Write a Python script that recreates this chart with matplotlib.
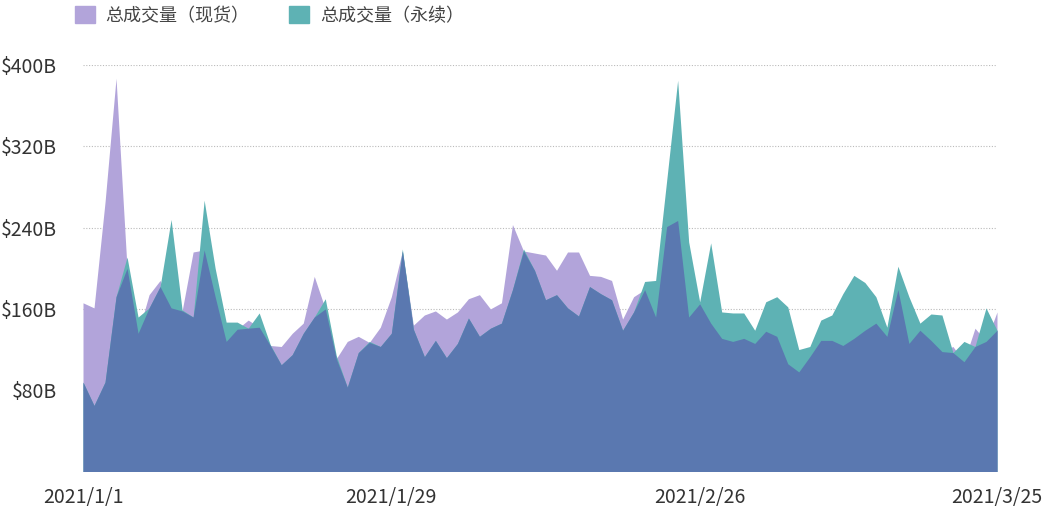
import numpy as np
import pandas as pd
import matplotlib
matplotlib.use('Agg')
import matplotlib.pyplot as plt
from matplotlib.patches import Patch

plt.rcParams['font.family'] = ['Noto Sans CJK SC', 'DejaVu Sans']

dates = pd.date_range('2021-01-01', '2021-03-25', freq='D')

# 总成交量（现货）, $B
spot = [166, 161, 265, 387, 200, 136, 174, 188, 161, 158,
        216, 218, 172, 128, 140, 149, 142, 124, 123, 136,
        146, 192, 160, 111, 128, 133, 127, 142, 172, 217,
        144, 154, 158, 150, 157, 170, 174, 160, 166, 243,
        217, 215, 213, 198, 216, 216, 193, 192, 188, 150,
        172, 179, 152, 241, 247, 152, 165, 146, 131, 128,
        131, 126, 138, 133, 106, 98, 113, 129, 129, 124,
        131, 139, 146, 133, 179, 126, 139, 129, 118, 123,
        108, 141, 128, 157]

# 总成交量（永续）, $B
perp = [88, 65, 88, 172, 211, 152, 161, 182, 248, 159,
        152, 267, 200, 147, 147, 141, 156, 125, 105, 115,
        136, 152, 170, 114, 83, 117, 128, 123, 136, 219,
        140, 113, 129, 112, 126, 151, 133, 141, 146, 179,
        219, 198, 169, 174, 161, 153, 182, 175, 169, 139,
        157, 187, 188, 286, 385, 226, 167, 225, 157, 156,
        156, 139, 167, 172, 162, 120, 123, 149, 154, 175,
        193, 186, 172, 142, 202, 172, 146, 155, 154, 117,
        128, 123, 161, 139]

labels = ['总成交量（现货）', '总成交量（永续）']
yticks = [80, 160, 240, 320, 400]
xtick_dates = ['2021-01-01', '2021-01-29', '2021-02-26', '2021-03-25']

c_spot = '#b2a4da'
c_perp = '#5eb2b4'
c_both = '#5a78b0'

fig = plt.figure(figsize=(10.44, 5.12), dpi=100)
ax = fig.add_axes([83 / 1044, 40.5 / 512, 914 / 1044, 406.5 / 512])

spot_a = np.array(spot)
perp_a = np.array(perp)
ax.fill_between(dates, 0, spot_a, color=c_spot, lw=0)
ax.fill_between(dates, 0, perp_a, color=c_perp, lw=0)
ax.fill_between(dates, 0, np.minimum(spot_a, perp_a), color=c_both, lw=0)

ax.set_xlim(dates[0], dates[-1])
ax.set_ylim(0, 400)
ax.set_yticks(yticks)
ax.set_yticklabels(['$%dB' % v for v in yticks])
ax.set_xticks(pd.to_datetime(xtick_dates))
ax.set_xticklabels([d.strftime('%Y/%-m/%-d') for d in pd.to_datetime(xtick_dates)])
ax.grid(axis='y', color='#bbbbbb', linestyle=(0, (1, 1.5)), linewidth=0.8)
ax.set_axisbelow(True)
for s in ax.spines.values():
    s.set_visible(False)
ax.tick_params(length=0, labelsize=14, colors='#333333')
ax.tick_params(axis='y', pad=19)
ax.tick_params(axis='x', pad=11)

handles = [Patch(color=c_spot), Patch(color=c_perp)]
fig.legend(handles, labels, loc='upper left', bbox_to_anchor=(0.056, 1.02),
           ncol=2, frameon=False, fontsize=13, handlelength=1.1, handleheight=1.1,
           columnspacing=2.2, handletextpad=0.6, labelcolor='#444444')

fig.savefig('out.png', dpi=100)
